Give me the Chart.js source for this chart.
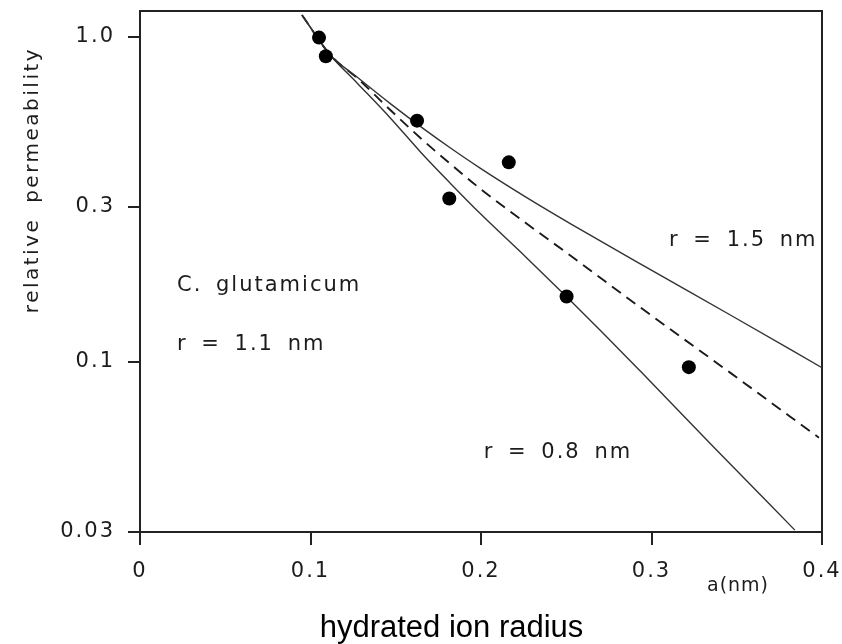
<!DOCTYPE html>
<html>
<head>
<meta charset="utf-8">
<title>relative permeability vs hydrated ion radius</title>
<script src="https://cdn.jsdelivr.net/npm/chart.js@4.4.1/dist/chart.umd.min.js"></script>
<style>
    html, body { margin: 0; padding: 0; background: #fff; }
    #wrap { width: 842px; height: 644px; position: relative; }
</style>
</head>
<body>
<div id="wrap"><canvas id="permChart"></canvas></div>
<script>
// measured ions: hydrated radius a (nm) and relative permeability
const pointA = [0.105, 0.109, 0.1625, 0.1814, 0.2163, 0.2502, 0.3219];
const pointP = [0.994, 0.871, 0.552, 0.318, 0.411, 0.159, 0.0964];

// model curve, pore radius r = 1.5 nm
const curve15A = [0.095, 0.1116, 0.1273, 0.1468, 0.1664, 0.1821, 0.1997, 0.2261, 0.2526, 0.2937, 0.3465, 0.4];
const curve15P = [1.166, 0.879, 0.752, 0.623, 0.521, 0.455, 0.394, 0.322, 0.266, 0.1998, 0.1392, 0.096];

// model curve, r = 1.1 nm (dashed)
const curve11A = [0.095, 0.1116, 0.1273, 0.1468, 0.1664, 0.1821, 0.1997, 0.2261, 0.2526, 0.2937, 0.3465, 0.3982];
const curve11P = [1.166, 0.879, 0.747, 0.5955, 0.4783, 0.4064, 0.3405, 0.2679, 0.2121, 0.1468, 0.0924, 0.0585];

// model curve, r = 0.8 nm
const curve08A = [0.095, 0.1116, 0.1273, 0.1468, 0.1645, 0.1821, 0.1997, 0.2261, 0.2502, 0.2702, 0.2937, 0.3367, 0.3841];
const curve08P = [1.166, 0.879, 0.721, 0.5628, 0.4424, 0.354, 0.2854, 0.2106, 0.1587, 0.1248, 0.0934, 0.0546, 0.0304];

// axes
const xTickValues = [0, 0.1, 0.2, 0.3, 0.4];
const xTickLabels = ['0', '0.1', '0.2', '0.3', '0.4'];
const yTickValues = [0.03, 0.1, 0.3, 1.0];
const yTickLabels = ['0.03', '0.1', '0.3', '1.0'];

// in-plot notes, anchored in data units (left / baseline)
const notes = [
    { text: 'C. glutamicum', a: 0.0217, p: 0.1656 },
    { text: 'r = 1.1 nm', a: 0.0217, p: 0.109 },
    { text: 'r = 1.5 nm', a: 0.3103, p: 0.2265 },
    { text: 'r = 0.8 nm', a: 0.2016, p: 0.0508 }
];

function toXY(xs, ys) {
    return xs.map((x, i) => ({ x: x, y: ys[i] }));
}

// fixed axis box, no auto padding from the tick labels
function fixBox(size) {
    return s => {
        if (s.isHorizontal()) s.height = size; else s.width = size;
        s.paddingTop = 0;
        s.paddingBottom = 0;
        s.paddingLeft = 0;
        s.paddingRight = 0;
    };
}

const INK = '#222';
const TEXT = '#1c1c1c';
const tickFont = { family: '"DejaVu Sans", sans-serif', size: 21 };

// draws the free text of the figure (titles and curve labels)
const figureText = {
    id: 'figureText',
    beforeDraw(chart) {
        chart.ctx.letterSpacing = '2px';
    },
    afterDraw(chart) {
        const ctx = chart.ctx;
        const xs = chart.scales.x;
        const ys = chart.scales.y;
        ctx.save();
        ctx.fillStyle = TEXT;
        ctx.textAlign = 'left';
        ctx.textBaseline = 'alphabetic';
        ctx.font = '21px "DejaVu Sans"';
        ctx.letterSpacing = '2px';
        ctx.wordSpacing = '5px';
        notes.forEach(n => {
            ctx.fillText(n.text, xs.getPixelForValue(n.a), ys.getPixelForValue(n.p));
        });

        // unit label next to the last x tick
        ctx.font = '19px "DejaVu Sans"';
        ctx.letterSpacing = '1px';
        ctx.wordSpacing = '0px';
        ctx.fillText('a(nm)', 707, 591);

        // y title, upper part of the axis
        ctx.save();
        ctx.translate(38, 180);
        ctx.rotate(-Math.PI / 2);
        ctx.textAlign = 'center';
        ctx.font = '20px "DejaVu Sans"';
        ctx.letterSpacing = '2.5px';
        ctx.wordSpacing = '6px';
        ctx.fillText('relative permeability', 0, 0);
        ctx.restore();

        // x title
        ctx.letterSpacing = '0px';
        ctx.wordSpacing = '0px';
        ctx.fillStyle = '#000';
        ctx.textAlign = 'center';
        ctx.font = '31px "Liberation Sans"';
        ctx.fillText('hydrated ion radius', 451.5, 637);
        ctx.restore();
        ctx.letterSpacing = '0px';
    }
};

const curveStyle = {
    type: 'line',
    showLine: true,
    pointRadius: 0,
    fill: false,
    cubicInterpolationMode: 'monotone'
};

new Chart(document.getElementById('permChart'), {
    type: 'scatter',
    data: {
        datasets: [
            {
                label: 'data',
                data: toXY(pointA, pointP),
                pointRadius: 7,
                pointBackgroundColor: '#000',
                pointBorderWidth: 0,
                showLine: false
            },
            Object.assign({}, curveStyle, {
                label: 'r = 1.5 nm',
                data: toXY(curve15A, curve15P),
                borderColor: '#333',
                borderWidth: 1.4
            }),
            Object.assign({}, curveStyle, {
                label: 'r = 1.1 nm',
                data: toXY(curve11A, curve11P),
                borderColor: '#1a1a1a',
                borderWidth: 1.9,
                borderDash: [11, 7]
            }),
            Object.assign({}, curveStyle, {
                label: 'r = 0.8 nm',
                data: toXY(curve08A, curve08P),
                borderColor: '#333',
                borderWidth: 1.4
            })
        ]
    },
    options: {
        responsive: true,
        maintainAspectRatio: false,
        animation: false,
        layout: { autoPadding: false, padding: { top: 11, right: 20, left: 0, bottom: 0 } },
        plugins: {
            legend: { display: false },
            tooltip: { enabled: false }
        },
        scales: {
            x: {
                type: 'linear',
                position: 'bottom',
                min: 0,
                max: 0.4,
                afterBuildTicks: s => { s.ticks = xTickValues.map(v => ({ value: v })); },
                afterFit: fixBox(112),
                ticks: {
                    callback: (v, i) => xTickLabels[i],
                    font: tickFont,
                    color: TEXT,
                    padding: 14,
                    maxRotation: 0,
                    autoSkip: false
                },
                grid: { drawOnChartArea: false, drawTicks: true, tickLength: 13, color: INK, lineWidth: 2 },
                border: { display: true, color: INK, width: 2 }
            },
            y: {
                type: 'logarithmic',
                position: 'left',
                min: 0.03,
                max: 1.2,
                afterBuildTicks: s => { s.ticks = yTickValues.map(v => ({ value: v })); },
                afterFit: fixBox(140),
                ticks: {
                    callback: (v, i) => yTickLabels[i],
                    font: tickFont,
                    color: TEXT,
                    padding: 13,
                    autoSkip: false
                },
                grid: { drawOnChartArea: false, drawTicks: true, tickLength: 12, color: INK, lineWidth: 2 },
                border: { display: true, color: INK, width: 2 }
            },
            x2: {
                type: 'linear',
                position: 'top',
                min: 0,
                max: 0.4,
                afterFit: fixBox(0),
                ticks: { display: false },
                grid: { display: false, drawTicks: false },
                border: { display: true, color: INK, width: 2 }
            },
            y2: {
                type: 'logarithmic',
                position: 'right',
                min: 0.03,
                max: 1.2,
                afterFit: fixBox(0),
                ticks: { display: false },
                grid: { display: false, drawTicks: false },
                border: { display: true, color: INK, width: 2 }
            }
        }
    },
    plugins: [figureText]
});
</script>
</body>
</html>
